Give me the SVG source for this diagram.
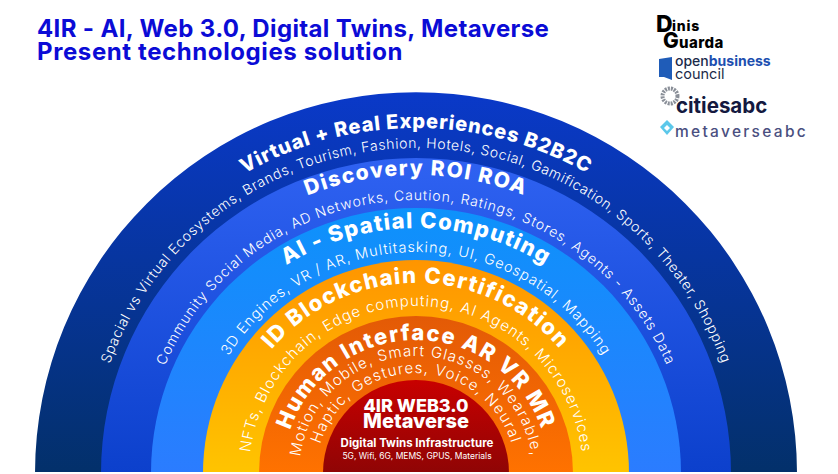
<svg xmlns="http://www.w3.org/2000/svg" width="838" height="474" viewBox="0 0 838 474">
<style>
text{font-family:Inter,"Open Sans","Liberation Sans",sans-serif;fill:#fff}
.h{font-weight:800}
.s{font-weight:300}
.t{fill:#0b0bd6;font-weight:700;font-size:24px;letter-spacing:.36px}
.k{fill:#000;font-weight:800}
</style>
<defs>
<linearGradient id="g1" x1="0" y1="0" x2="0" y2="1"><stop offset="0" stop-color="#0a39c9"/><stop offset="1" stop-color="#03306a"/></linearGradient>
<linearGradient id="g2" x1="0" y1="0" x2="0" y2="1"><stop offset="0" stop-color="#2f62f2"/><stop offset="1" stop-color="#0c40cc"/></linearGradient>
<linearGradient id="g3" x1="0" y1="0" x2="0" y2="1"><stop offset="0" stop-color="#0d92fb"/><stop offset="1" stop-color="#2b7cff"/></linearGradient>
<linearGradient id="g4" x1="0" y1="0" x2="0" y2="1"><stop offset="0" stop-color="#ff9500"/><stop offset="1" stop-color="#ffc400"/></linearGradient>
<linearGradient id="g5" x1="0" y1="0" x2="0" y2="1"><stop offset="0" stop-color="#e35a06"/><stop offset="1" stop-color="#ff7200"/></linearGradient>
<linearGradient id="g6" x1="0" y1="0" x2="0" y2="1"><stop offset="0" stop-color="#c80000"/><stop offset="1" stop-color="#8f0505"/></linearGradient>
<path id="a1" d="M71 473A345 345 0 0 1 761 473"/>
<path id="a1s" d="M91 473A325 325 0 0 1 741 473"/>
<path id="a2" d="M118 473A298 298 0 0 1 714 473"/>
<path id="a2s" d="M143 473A273 273 0 0 1 689 473"/>
<path id="a3" d="M171 473A245 245 0 0 1 661 473"/>
<path id="a3s" d="M195 473A221 221 0 0 1 637 473"/>
<path id="a4" d="M226 473A190 190 0 0 1 606 473"/>
<path id="a4s" d="M249 473A167 167 0 0 1 583 473"/>
<path id="a5" d="M283 473A133 133 0 0 1 549 473"/>
<path id="a5s" d="M299 473A117 117 0 0 1 533 473"/>
<path id="a5t" d="M316 473A100 100 0 0 1 516 473"/>
</defs>
<rect width="838" height="474" fill="#fff"/>
<g id="title"><text class="t" x="37" y="37">4IR - AI, Web 3.0, Digital Twins, Metaverse</text><text class="t" x="37" y="60" style="letter-spacing:.6px">Present technologies solution</text></g>
<g id="logos">
<text class="k" x="656" y="32" style="font-size:23px">D</text><text class="k" x="672" y="31" style="font-size:14px;letter-spacing:.8px">inis</text>
<text class="k" x="663" y="48" style="font-size:21px">G</text><text class="k" x="679" y="48" style="font-size:15px;letter-spacing:.4px">uarda</text>
<path d="M659 59l13-2v23l-8-3h-5z" fill="#1f5cb8"/>
<text x="675" y="66" style="fill:#1b2a4a;font-weight:500;font-size:14px">open<tspan style="fill:#1d4fb0;font-weight:700">business</tspan></text>
<text x="675" y="79" style="fill:#1b2a4a;font-weight:400;font-size:14.5px">council</text>
<circle cx="670" cy="96" r="7.5" fill="none" stroke="#8a8f98" stroke-width="4" stroke-dasharray="2 1"/>
<text x="676" y="113" style="fill:#14193f;font-weight:700;font-size:20.5px">citiesabc</text>
<path d="M667 120l7 7-7 8-7-8z" fill="#5cc8ea"/><path d="M667 125l3 3-3 3-3-3z" fill="#fff"/>
<text x="675" y="137" style="fill:#4a4f80;font-weight:500;font-size:15.5px;letter-spacing:2.3px">metaverseabc</text>
</g>
<g id="rings">
<path id="ring1" fill="url(#g1)" d="M35 473A381 381 0 0 1 797 473z"/>
<path id="ring2" fill="url(#g2)" d="M101 473A315 315 0 0 1 731 473z"/>
<path id="ring3" fill="url(#g3)" d="M151 473A265 265 0 0 1 681 473z"/>
<path id="ring4" fill="url(#g4)" d="M203 473A213 213 0 0 1 629 473z"/>
<path id="ring5" fill="url(#g5)" d="M259 473A157 157 0 0 1 573 473z"/>
<path id="ring6" fill="url(#g6)" d="M323 473A93 93 0 0 1 509 473z"/>
<rect y="472" width="838" height="2" fill="#fff"/>
</g>
<g id="labels">
<text class="h" style="font-size:20px;letter-spacing:.85px" text-anchor="middle"><textPath href="#a1" startOffset="50%">Virtual + Real Experiences B2B2C</textPath></text>
<text class="s" style="font-size:14px;letter-spacing:.61px" text-anchor="middle"><textPath href="#a1s" startOffset="50%">Spacial vs Virtual Ecosystems, Brands, Tourism, Fashion, Hotels, Social, Gamification, Sports, Theater, Shopping</textPath></text>
<text class="h" style="font-size:21px;letter-spacing:1.55px" text-anchor="middle"><textPath href="#a2" startOffset="50%">Discovery ROI ROA</textPath></text>
<text class="s" style="font-size:14px;letter-spacing:.88px" text-anchor="middle"><textPath href="#a2s" startOffset="50%">Community Social Media, AD Networks, Caution, Ratings, Stores, Agents - Assets Data</textPath></text>
<text class="h" style="font-size:22px;letter-spacing:1.3px" text-anchor="middle"><textPath href="#a3" startOffset="50%">AI - Spatial Computing</textPath></text>
<text class="s" style="font-size:14.5px;letter-spacing:.9px" text-anchor="middle"><textPath href="#a3s" startOffset="50%">3D Engines, VR / AR, Multitasking, UI, Geospatial, Mapping</textPath></text>
<text class="h" style="font-size:22px;letter-spacing:1.4px" text-anchor="middle"><textPath href="#a4" startOffset="50%">ID Blockchain Certification</textPath></text>
<text class="s" style="font-size:15px;letter-spacing:1px" text-anchor="middle"><textPath href="#a4s" startOffset="50%">NFTs, Blockchain, Edge computing, AI Agents, Microservices</textPath></text>
<text class="h" style="font-size:22px;letter-spacing:1.5px" text-anchor="middle"><textPath href="#a5" startOffset="50%">Human Interface AR VR MR</textPath></text>
<text class="s" style="font-size:15px;letter-spacing:1.1px" text-anchor="middle"><textPath href="#a5s" startOffset="50%">Motion, Mobile, Smart Glasses, Wearable,</textPath></text>
<text class="s" style="font-size:15px;letter-spacing:1.2px" text-anchor="middle"><textPath href="#a5t" startOffset="50%">Haptic, Gestures, Voice, Neural</textPath></text>
<g text-anchor="middle">
<text x="416" y="412" font-size="18" font-weight="800">4IR WEB3.0</text>
<text x="416" y="428" font-size="20" font-weight="800">Metaverse</text>
<text x="417" y="447" font-size="11.5" font-weight="700">Digital Twins Infrastructure</text>
<text x="417" y="459" font-size="8.5" font-weight="400">5G, Wifi, 6G, MEMS, GPUS, Materials</text>
</g>
</g>
</svg>
